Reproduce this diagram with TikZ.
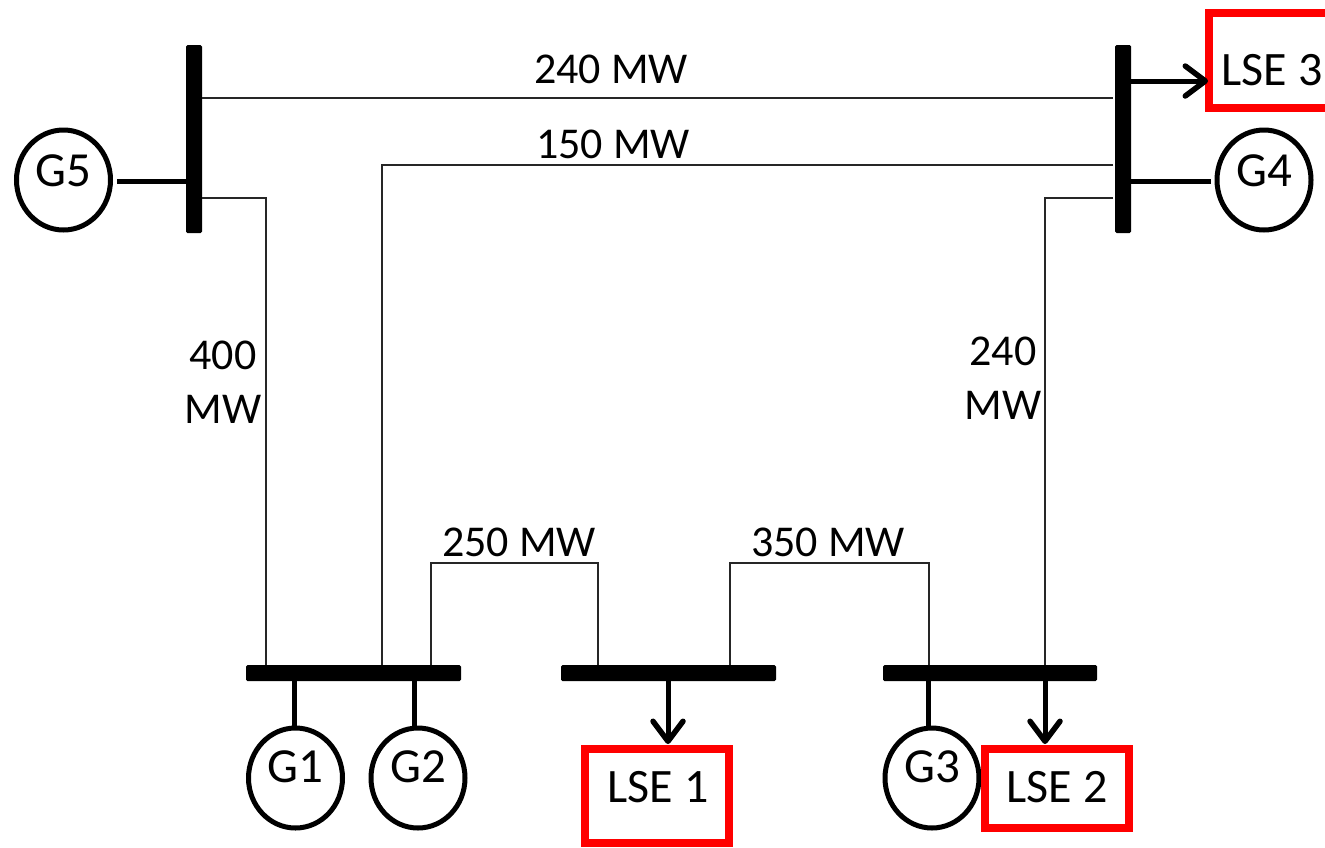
\documentclass[tikz,border=0pt]{standalone}
\usepackage{fontspec}
\setmainfont{Carlito}
\usetikzlibrary{arrows.meta,shapes.geometric}
\tikzset{
 x=1pt,y=-1pt,
 txt/.style={inner sep=0pt,font=\fontsize{44}{54}\selectfont,text=black,align=center},
 lsetxt/.style={inner sep=0pt,font=\fontsize{48}{50}\selectfont,text=black},
 busbar/.style={fill=black,draw=none,rounded corners=1.5pt,inner sep=0pt,outer sep=0pt},
 gen/.style={ellipse,draw=black,line width=5pt,fill=white,minimum width=94pt,minimum height=100pt,inner sep=0pt,outer sep=2pt},
 gentext/.style={inner sep=0pt,font=\fontsize{49}{50}\selectfont,text=black},
 lse/.style={draw={rgb,255:red,255;green,0;blue,0},line width=8pt,inner sep=0pt,outer sep=0pt,fill=white},
 wire/.style={line width=2pt,draw=black!85},
 stub/.style={line width=5pt,draw=black},
 load/.style={line width=5pt,draw=black,-{Straight Barb[length=20pt,width=30pt,line width=5.5pt,round]}},
}
\begin{document}
\begin{tikzpicture}
\useasboundingbox (0,0) rectangle (1325,847);
\fill[white] (0,0) rectangle (1325,847);
% buses
\node[busbar,minimum width=16pt,minimum height=188pt] (b5) at (194,139) {};
\node[busbar,minimum width=16pt,minimum height=188pt] (b4) at (1123,139) {};
\node[busbar,minimum width=215pt,minimum height=16pt] (ba) at (353.5,673) {};
\node[busbar,minimum width=215pt,minimum height=16pt] (bb) at (668.5,673) {};
\node[busbar,minimum width=214pt,minimum height=16pt] (bc) at (990,673) {};
% generators
\node[gen,label={[gentext,yshift=9pt]center:G5}] (g5) at (63.5,180) {};
\node[gen,label={[gentext,yshift=9pt]center:G4}] (g4) at (1264,180) {};
\node[gen,label={[gentext,yshift=11pt]center:G1}] (g1) at (295.5,778) {};
\node[gen,label={[gentext,yshift=11pt]center:G2}] (g2) at (418,778) {};
\node[gen,label={[gentext,yshift=11pt]center:G3}] (g3) at (932,778) {};
% load boxes
\node[lse,minimum width=144pt,minimum height=94pt] (l1) at (657,796) {};
\node[lsetxt] at (658,787) {LSE 1};
\node[lse,minimum width=144pt,minimum height=79pt] (l2) at (1057,788.5) {};
\node[lsetxt] at (1057,787) {LSE 2};
\node[lse,minimum width=144pt,minimum height=95pt] (l3) at (1281,60.5) {};
\node[lsetxt] (t3) at (1272,70) {LSE 3};
% wires
\coordinate (w1) at (1113,98);
\coordinate (w2) at (1113,164.5);
\coordinate (w3) at (1113,197.5);
\draw[wire] (b5.east |- w1) -- (w1);
\draw[wire] (w2) -| (ba.north -| 382,0);
\draw[wire] (b5.east |- w3) -| (ba.north -| 265.5,0);
\draw[wire] (w3) -| (bc.north -| 1045,0);
\coordinate (u1) at (431,563);
\coordinate (u2) at (597.5,563);
\coordinate (u3) at (729.5,563);
\coordinate (u4) at (928.5,563);
\draw[wire] (ba.north -| u1) -- (u1) -- (u2) -- (bb.north -| u2);
\draw[wire] (bb.north -| u3) -- (u3) -- (u4) -- (bc.north -| u4);
% stubs
\coordinate (s1) at (294.5,700);
\coordinate (s2) at (414.5,700);
\coordinate (s3) at (928.5,700);
\coordinate (s4) at (117,181);
\coordinate (s5) at (1211,181);
\draw[stub] (s4) -- (b5.west |- s4);
\draw[stub] (b4.east |- s5) -- (s5);
\draw[stub] (ba.south -| s1) -- (s1 |- g1.north);
\draw[stub] (ba.south -| s2) -- (s2 |- g2.north);
\draw[stub] (bc.south -| s3) -- (s3 |- g3.north);
% load arrows
\coordinate (a1) at (668,744);
\coordinate (a2) at (1045,744);
\coordinate (a3) at (1208,81);
\draw[load] (bb.south -| a1) -- (a1);
\draw[load] (bc.south -| a2) -- (a2);
\draw[load] (b4.east |- a3) -- (a3);
% labels
\node[txt] (m1) at (611,69) {240 MW};
\node[txt] (m2) at (613,144) {150 MW};
\node[txt] (m3) at (223,382) {400\\MW};
\node[txt] (m4) at (1003,378) {240\\MW};
\node[txt] (m5) at (519,542) {250 MW};
\node[txt] (m6) at (828,542) {350 MW};
\end{tikzpicture}
\end{document}
